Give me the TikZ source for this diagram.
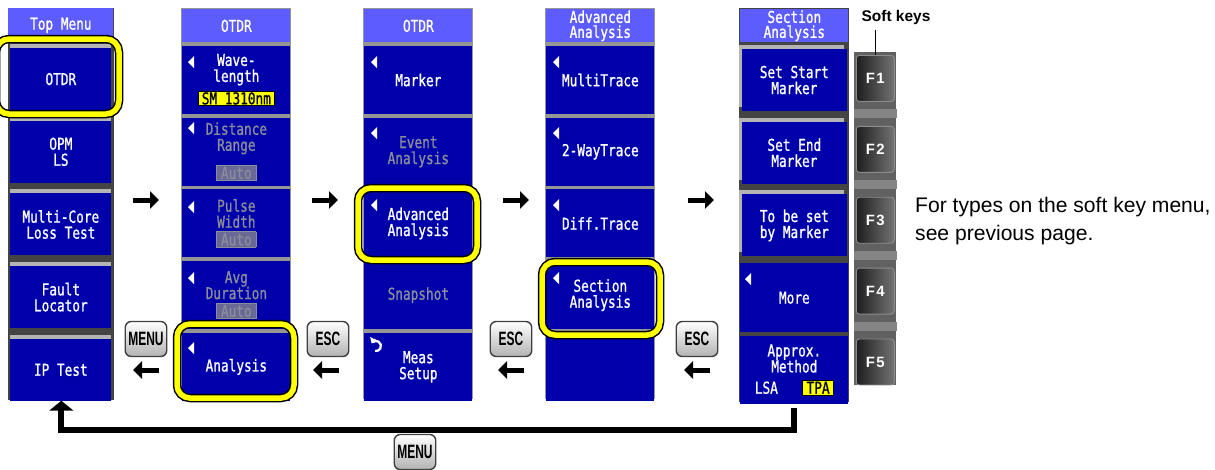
\documentclass[tikz,border=0pt]{standalone}
\usepackage{fontspec}
\setmainfont{Liberation Sans}
\newfontfamily\scrfont[FakeStretch=0.78, FakeBold=1]{DejaVu Sans Mono}
\newfontfamily\keyfont[FakeStretch=0.62]{Liberation Sans}
\usetikzlibrary{arrows.meta, positioning}

\definecolor{hdrblue}{RGB}{92,92,255}
\definecolor{btnblue}{RGB}{0,0,170}
\definecolor{framedark}{RGB}{68,68,68}
\definecolor{framegray}{RGB}{150,150,150}
\definecolor{bevelgray}{RGB}{180,180,180}
\definecolor{dimtext}{RGB}{140,140,155}
\definecolor{autofill}{RGB}{105,105,150}
\definecolor{hiyellow}{RGB}{255,255,0}

\newcommand{\yelbox}[1]{{\setlength{\fboxsep}{0.5pt}\fcolorbox{black}{hiyellow}{\color{black}\kern1.5pt#1\kern1.5pt}}}
\newcommand{\autobox}{{\setlength{\fboxsep}{0.8pt}\fcolorbox{dimtext}{autofill}{\color{dimtext}\kern1.5pt Auto\kern1.5pt}}}

\begin{document}
\begin{tikzpicture}[
    x=0.2mm, y=-0.2mm,
    font=\scrfont\fontsize{9.3}{9.1}\selectfont,
    colbox/.style={fill=framedark, inner sep=0pt, anchor=north west,
        minimum width=22mm, minimum height=78.2mm},
    hdr/.style={fill=hdrblue, text=white, inner sep=0pt, align=center,
        anchor=north west, minimum width=21.6mm, minimum height=6.6mm,
        font=\scrfont\fontsize{9.3}{8.5}\selectfont},
    btn/.style={fill=btnblue, text=white, inner sep=0pt, align=center,
        minimum width=21.6mm, minimum height=13.6mm},
    bev/.style={btn, minimum width=20.2mm, minimum height=12.4mm,
        preaction={fill=bevelgray, transform canvas={xshift=-#1, yshift=0.8mm}}},
    bev/.default=0mm,
    dimmed/.style={text=dimtext},
    hilite/.style={draw=black, line width=0.3mm, double=hiyellow,
        double distance=1.1mm, rounded corners=2.6mm},
    fwd/.style={line width=1mm, -{Triangle[length=1.8mm, width=3.4mm]}},
    hwkey/.style={draw=black!75, line width=0.8pt, rounded corners=1.2mm,
        top color=white, bottom color=black!30, inner sep=0pt,
        minimum width=8.3mm, minimum height=7mm,
        font=\keyfont\bfseries\fontsize{11}{11}\selectfont},
    fkey/.style={draw=black!45, line width=0.5pt, rounded corners=0.6mm,
        left color=black!88, right color=black!55, text=white, inner sep=0pt,
        minimum width=7.6mm, minimum height=9.2mm,
        font=\rmfamily\bfseries\fontsize{8.5}{8.5}\selectfont},
    groove/.style={fill=black!48},
    ret/.style={line width=1.2mm, -{Triangle[length=2mm, width=4.8mm]}},
    ltri/.pic={\fill[white] (0,0) -- (6,-6) -- (6,6) -- cycle;}
]
\useasboundingbox (0,0) rectangle (1215,469);

% -- column 1: top menu --
\node[colbox, minimum width=21.2mm, minimum height=78.4mm] (c1) at (8,8) {};
\node[hdr, minimum width=21mm, minimum height=6.8mm] (h1) at (8,8) {Top Menu};
\node[bev, below=1mm of h1] (b11) {OTDR};
\node[bev, below=2mm of b11] (b12) {OPM\\LS};
\node[bev, below=2mm of b12] (b13) {Multi-Core\\Loss Test};
\node[bev, below=2mm of b13] (b14) {Fault\\Locator};
\node[bev, below=2mm of b14] (b15) {IP Test};

% -- column 2: OTDR --
\node[colbox, fill=framegray] (c2) at (181,8) {};
\node[hdr] (h2) at (182,9) {OTDR};
\node[btn, below=0.6mm of h2] (b21) {Wave-\\length\\[2pt]\yelbox{SM 1310nm}};
\node[btn, dimmed, below=0.6mm of b21] (b22) {Distance\\Range\\[5pt]\autobox};
\node[btn, dimmed, below=0.6mm of b22] (b23) {Pulse\\Width\\[1pt]\autobox};
\node[btn, dimmed, below=0.6mm of b23] (b24) {Avg\\Duration\\[1pt]\autobox};
\node[btn, below=0.6mm of b24] (b25) {Analysis};

% -- column 3: OTDR, analysis page --
\node[colbox, fill=framegray] (c3) at (363,8) {};
\node[hdr] (h3) at (364,9) {OTDR};
\node[btn, below=0.6mm of h3] (b31) {Marker};
\node[btn, dimmed, below=0.6mm of b31] (b32) {Event\\Analysis};
\node[btn, below=0.6mm of b32] (b33) {Advanced\\Analysis};
\node[btn, dimmed, below=0.6mm of b33] (b34) {Snapshot};
\node[btn, below=0.6mm of b34] (b35) {Meas\\Setup};

% -- column 4: advanced analysis --
\node[colbox, fill=framegray] (c4) at (545,8) {};
\node[hdr] (h4) at (546,9) {Advanced\\Analysis};
\node[btn, below=0.6mm of h4] (b41) {MultiTrace};
\node[btn, below=0.6mm of b41] (b42) {2-WayTrace};
\node[btn, below=0.6mm of b42] (b43) {Diff.Trace};
\node[btn, below=0.6mm of b43] (b44) {Section\\Analysis};
\node[btn, below=0.6mm of b44] (b45) {};

% -- column 5: section analysis --
\node[colbox, minimum height=78.8mm] (c5) at (739,8) {};
\node[hdr] (h5) at (740,9) {Section\\Analysis};
\node[bev=0.6mm, minimum width=21mm, below=1.2mm of h5] (b51) {Set Start\\Marker};
\node[bev=0.6mm, minimum width=21mm, below=2mm of b51] (b52) {Set End\\Marker};
\node[bev=0.6mm, minimum width=21mm, below=2mm of b52] (b53) {To be set\\by Marker};
\node[btn, minimum height=13.8mm, below=1.2mm of b53] (b54) {More};
\node[btn, below=0.6mm of b54] (b55) {Approx.\\Method\\[3pt]LSA\hspace{4.9mm}\yelbox{TPA}};

% -- sub-menu marks --
\pic at (188,62) {ltri};
\pic at (188,128) {ltri};
\pic at (188,207) {ltri};
\pic at (188,278) {ltri};
\pic at (188,348) {ltri};
\pic at (371,62) {ltri};
\pic at (371,133) {ltri};
\pic at (371,205) {ltri};
\pic at (553,62) {ltri};
\pic at (553,133) {ltri};
\pic at (553,205) {ltri};
\pic at (553,278) {ltri};
\pic at (745,279) {ltri};
\draw[white, line width=0.45mm, {Triangle[length=1mm, width=1.8mm]}-]
    (376,346) ++(-150:5) arc[start angle=-150, end angle=100, radius=5];

% -- selected keys --
\draw[hilite] (-4,39) rectangle (119,114);
\draw[hilite] (177,324) rectangle (294,398);
\draw[hilite] (358,188) rectangle (477,260);
\draw[hilite] (542,262) rectangle (660,335);

% -- forward arrows --
\coordinate (fa1) at (133,200);
\coordinate (fa2) at (312,200);
\coordinate (fa3) at (503,200);
\coordinate (fa4) at (688,200);
\draw[fwd] (fa1) -- ++(26,0);
\draw[fwd] (fa2) -- ++(26,0);
\draw[fwd] (fa3) -- ++(26,0);
\draw[fwd] (fa4) -- ++(26,0);

% -- MENU / ESC keys and back arrows --
\node[hwkey] (k1) at (146,339) {MENU};
\node[hwkey] (k2) at (328,339) {ESC};
\node[hwkey] (k3) at (511,339) {ESC};
\node[hwkey] (k4) at (697,339) {ESC};
\coordinate (ba1) at (159,370);
\coordinate (ba2) at (339,370);
\coordinate (ba3) at (524,370);
\coordinate (ba4) at (710,370);
\draw[fwd] (ba1) -- ++(-26,0);
\draw[fwd] (ba2) -- ++(-26,0);
\draw[fwd] (ba3) -- ++(-26,0);
\draw[fwd] (ba4) -- ++(-26,0);

% -- MENU: back to top menu --
\draw[ret] ([yshift=-1mm]c5.south) -- ++(0,22) -| (c1.south);
\node[hwkey] (k5) at (415,452) {MENU};

% -- soft keys --
\node[fill=black!62, inner sep=0pt, anchor=north west,
    minimum width=8.4mm, minimum height=66.6mm] (skp) at (854,52) {};
\node[fkey, below=0.6mm of skp.north] (f1) {F\kern0.8pt1};
\node[fkey, below=4.8mm of f1] (f2) {F\kern0.8pt2};
\node[fkey, below=4.8mm of f2] (f3) {F\kern0.8pt3};
\node[fkey, below=4.8mm of f3] (f4) {F\kern0.8pt4};
\node[fkey, below=4.8mm of f4] (f5) {F\kern0.8pt5};
\fill[groove] ([yshift=-1.5mm]f1.south -| skp.west) rectangle ([yshift=-3.3mm]f1.south -| skp.east);
\fill[groove] ([yshift=-1.5mm]f2.south -| skp.west) rectangle ([yshift=-3.3mm]f2.south -| skp.east);
\fill[groove] ([yshift=-1.5mm]f3.south -| skp.west) rectangle ([yshift=-3.3mm]f3.south -| skp.east);
\fill[groove] ([yshift=-1.5mm]f4.south -| skp.west) rectangle ([yshift=-3.3mm]f4.south -| skp.east);
\node[font=\rmfamily\bfseries\fontsize{8.8}{8.8}\selectfont] (skl) at (896,17) {Soft keys};
\draw[line width=0.3mm] (f1.north) -- (f1.north |- skl.south);

\node[anchor=north west, align=left, font=\rmfamily\fontsize{12}{16}\selectfont]
    (note) at (909,191) {For types on the soft key menu,\\see previous page.};

\end{tikzpicture}
\end{document}
